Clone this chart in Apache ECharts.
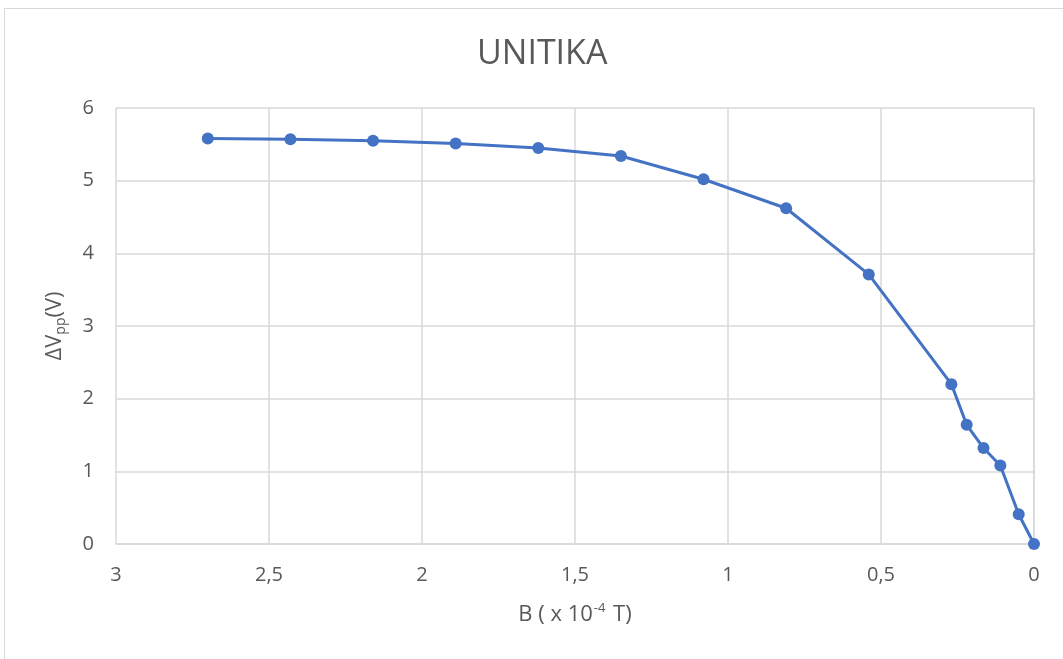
<!DOCTYPE html>
<html>
<head>
<meta charset="utf-8">
<script src="https://cdn.jsdelivr.net/npm/echarts@6/dist/echarts.min.js"></script>
<style>
  html, body { margin: 0; padding: 0; background: #fff; }
  #frame { position: absolute; left: 4px; top: 8px; width: 1070px; height: 660px; border: 1px solid #d9d9d9; box-sizing: border-box; }
  #chart { position: absolute; left: 0; top: 0; width: 1063px; height: 659px; }
</style>
</head>
<body>
<div id="frame"></div>
<div id="chart"></div>
<script>
// Magnetic field B (x 10^-4 T) and peak-to-peak voltage change (V)
const fieldB = [2.70, 2.43, 2.16, 1.89, 1.62, 1.35, 1.08, 0.81, 0.54, 0.27, 0.22, 0.165, 0.11, 0.05, 0];
const deltaVpp = [5.58, 5.57, 5.55, 5.51, 5.45, 5.34, 5.02, 4.62, 3.71, 2.20, 1.64, 1.32, 1.08, 0.41, 0];
const xTicks = [0, 0.5, 1, 1.5, 2, 2.5, 3];
const yTicks = [0, 1, 2, 3, 4, 5, 6];

const fontFamily = '"Open Sans", "Liberation Sans", sans-serif';
const textColor = '#595959';
const points = fieldB.map((b, i) => [b, deltaVpp[i]]);

const chart = echarts.init(document.getElementById('chart'), null, { renderer: 'canvas' });
chart.setOption({
  backgroundColor: 'transparent',
  animation: false,
  title: {
    text: 'UNITIKA',
    left: 472,
    top: 32,
    textStyle: { fontFamily, fontSize: 34, fontWeight: 'normal', color: textColor }
  },
  grid: { left: 116, right: 29, top: 108, bottom: 115, containLabel: false },
  xAxis: {
    type: 'value',
    inverse: true,
    min: xTicks[0],
    max: xTicks[xTicks.length - 1],
    interval: 0.5,
    axisLine: { show: true, lineStyle: { color: '#d9d9d9', width: 1.5 } },
    axisTick: { show: false },
    splitLine: { show: true, lineStyle: { color: '#d9d9d9', width: 1.5 } },
    axisLabel: {
      margin: 21, color: textColor, fontFamily, fontSize: 20,
      formatter: v => String(v).replace('.', ',')
    },
    name: '{t|B ( x 10}{sup|-4}{t| T)}',
    nameLocation: 'middle',
    nameGap: 58,
    nameTextStyle: {
      rich: {
        t: { fontFamily, fontSize: 22, color: textColor },
        sup: { fontFamily, fontSize: 13, color: textColor, verticalAlign: 'top', padding: [0, 2, 12, 1] }
      }
    }
  },
  yAxis: {
    type: 'value',
    min: yTicks[0],
    max: yTicks[yTicks.length - 1],
    interval: 1,
    axisLine: { show: true, lineStyle: { color: '#d9d9d9', width: 1.5 } },
    axisTick: { show: false },
    splitLine: { show: true, lineStyle: { color: '#d9d9d9', width: 1.5 } },
    axisLabel: { margin: 22, color: textColor, fontFamily, fontSize: 20 },
    name: '{t|ΔV}{sub|pp}{t|(V)}',
    nameLocation: 'middle',
    nameGap: 48,
    nameRotate: 90,
    nameTextStyle: {
      rich: {
        t: { fontFamily, fontSize: 22, color: textColor },
        sub: { fontFamily, fontSize: 14, color: textColor, padding: [12, 0, 0, 0] }
      }
    }
  },
  series: [{
    type: 'line',
    data: points,
    color: '#4472C4',
    lineStyle: { width: 3, color: '#4472C4' },
    symbol: 'circle',
    symbolSize: 12,
    itemStyle: { color: '#4472C4' }
  }]
});
</script>
</body>
</html>
